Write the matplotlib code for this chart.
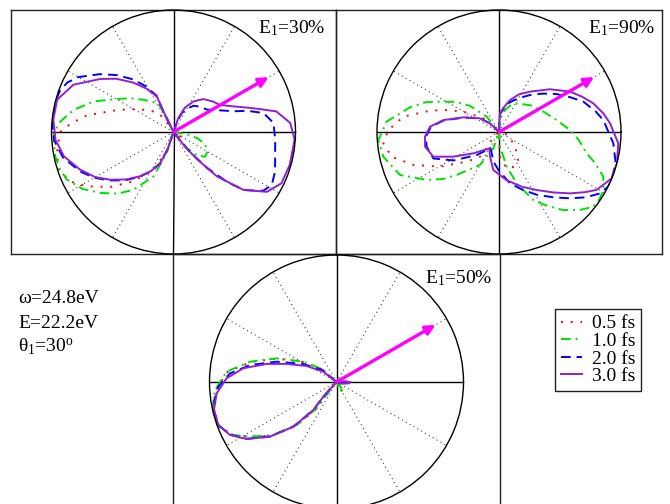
import numpy as np
import matplotlib
matplotlib.use('Agg')
import matplotlib.pyplot as plt
from matplotlib.patches import Rectangle

plt.rcParams['font.family'] = ['Liberation Serif', 'DejaVu Serif']
plt.rcParams['mathtext.fontset'] = 'custom'
plt.rcParams['mathtext.rm'] = 'Liberation Serif'
plt.rcParams['mathtext.it'] = 'Liberation Serif:italic'

# curves: (angle in degrees, radius), in drawing order
# panel E1=30% (top left)
tl_05 = [(120, 0.0), (125, 0.1), (127.5, 0.18), (137, 0.26), (146, 0.33), (152, 0.40), (159, 0.50),
         (169, 0.72), (175, 0.84), (180, 0.93), (190, 0.97), (198, 0.99), (205.5, 0.94), (212, 0.84),
         (221, 0.687), (231, 0.52), (242, 0.35), (251, 0.167), (254, 0.0),
         (335, 0.0), (328, 0.08), (320, 0.1), (312, 0.07), (305, 0.0)]
tl_10 = [(117, 0.0), (117.4, 0.237), (121, 0.28), (132.9, 0.36), (142, 0.45), (150, 0.54), (159, 0.70),
         (167.6, 0.84), (175.7, 0.946), (182, 0.985), (191.6, 0.99), (198, 0.98), (204, 0.957),
         (212, 0.88), (219.8, 0.78), (228, 0.68), (235.3, 0.575), (245.7, 0.40), (252, 0.18), (254, 0.0),
         (355, 0.0), (350, 0.12), (345, 0.21), (338, 0.28), (330, 0.32), (322, 0.33), (315, 0.27),
         (310, 0.17), (307, 0.0)]
tl_20 = [(-55, 0.0), (-51, 0.2), (-47, 0.4), (-43, 0.6), (-39.6, 0.745), (-35, 0.84), (-33.1, 0.88),
         (-28.3, 0.915), (-22, 0.895), (-17, 0.871), (-10, 0.846), (-4.3, 0.836), (5.2, 0.823),
         (11.9, 0.754), (16, 0.63), (19.1, 0.52), (25, 0.42), (33.8, 0.33), (44, 0.30), (52.8, 0.27),
         (60, 0.22), (66.4, 0.17), (71, 0.08), (73, 0.0),
         (117, 0.0), (116, 0.2), (115, 0.33), (122, 0.45), (128, 0.55), (135, 0.66), (142, 0.77),
         (150, 0.90), (155, 0.96), (160, 0.99), (165, 1.0), (175, 1.0), (184, 0.98), (193, 0.93),
         (203, 0.83), (210, 0.75), (217, 0.66), (225, 0.56), (233, 0.46), (240, 0.37), (247, 0.28),
         (251, 0.15), (253, 0.0)]
tl_30 = [(-56, 0.0), (-52, 0.15), (-49, 0.30), (-45.6, 0.51), (-39.6, 0.745), (-32.6, 0.91),
         (-25.4, 0.98), (-15.8, 0.99), (-3.6, 0.995), (4.4, 0.96), (11.3, 0.86), (14, 0.76),
         (17.4, 0.66), (24, 0.52), (30.3, 0.44), (37.4, 0.41), (47.7, 0.365), (56.8, 0.30),
         (65, 0.22), (71, 0.12), (73, 0.0),
         (117, 0.0), (116, 0.2), (115, 0.32), (122, 0.42), (129, 0.52), (137, 0.64), (144, 0.74),
         (154.7, 0.907), (164.5, 0.99), (174, 0.99), (183.7, 0.97), (192.5, 0.92), (202, 0.825),
         (210, 0.74), (217, 0.65), (225, 0.55), (233, 0.454), (240, 0.37), (247, 0.276),
         (251, 0.15), (253, 0.0)]

# panel E1=90% (top right)
tr_05 = [(130, 0.0), (138.8, 0.17), (150.2, 0.336), (157, 0.46), (162.8, 0.592), (170.9, 0.794),
         (179, 0.907), (185.6, 0.953), (193, 0.903), (201, 0.752), (210.4, 0.561), (222.5, 0.36),
         (233, 0.25), (235, 0.2), (230, 0.14), (225, 0.07), (222, 0.0),
         (350, 0.0), (341.4, 0.078), (322, 0.146), (310.7, 0.227), (304, 0.278), (295, 0.313),
         (282, 0.305), (272, 0.2), (265, 0.0)]
tr_10 = [(95, 0.0), (85, 0.1), (78, 0.17), (68, 0.23), (58, 0.276), (40, 0.34), (24.7, 0.40),
         (12, 0.48), (1.6, 0.582), (-6, 0.66), (-13.7, 0.74), (-18, 0.83), (-23.2, 0.93), (-29, 0.98),
         (-34, 0.99), (-38.4, 0.986), (-44, 0.92), (-50.5, 0.83), (-57, 0.72), (-63.2, 0.624),
         (-71, 0.445), (-77.5, 0.29), (-86, 0.12), (-90, 0.0),
         (125, 0.0), (128.7, 0.16), (138, 0.32), (145, 0.43), (152.8, 0.544), (158, 0.65),
         (164.5, 0.757), (174.7, 0.925), (183.8, 0.991), (192, 0.97), (203.5, 0.884), (213.5, 0.711),
         (220, 0.60), (225.4, 0.494), (240, 0.312), (251, 0.142), (255, 0.0)]
tr_20 = [(90, 0.0), (88, 0.1), (86, 0.15), (78, 0.2), (70, 0.26), (60, 0.32), (50, 0.396), (41, 0.48),
         (33.3, 0.566), (26, 0.65), (19.8, 0.735), (12, 0.81), (6.5, 0.861), (-5.7, 0.942), (-15, 0.99),
         (-22, 1.0), (-26.6, 1.0), (-31.3, 0.969), (-37, 0.89), (-43, 0.797), (-50, 0.70), (-59, 0.60),
         (-68, 0.51), (-78, 0.43), (-91, 0.31), (-100, 0.25), (-109, 0.185), (-118, 0.15),
         (226, 0.263), (212, 0.44), (202, 0.58), (191.5, 0.605), (183.6, 0.60), (175.6, 0.56),
         (167.9, 0.46), (157.6, 0.31), (144.3, 0.19), (136, 0.10), (130, 0.0)]
tr_30 = [(90, 0.0), (88, 0.1), (87, 0.153), (80, 0.2), (71, 0.277), (62, 0.35), (52.5, 0.417),
         (40, 0.545), (29.6, 0.67), (23, 0.74), (16.9, 0.808), (10, 0.87), (4.5, 0.913), (-5.4, 0.982),
         (-14.8, 1.0), (-22.4, 0.998), (-30.7, 0.93), (-35, 0.86), (-40.8, 0.77), (-48, 0.667),
         (-57, 0.567), (-67.5, 0.485), (-81, 0.40), (-98.5, 0.315), (-110, 0.215), (-120.5, 0.156),
         (219.8, 0.273), (208.4, 0.425), (200.6, 0.575), (191.2, 0.618), (183.6, 0.608),
         (175.6, 0.567), (167.9, 0.466), (157.6, 0.316), (144.3, 0.192), (136, 0.10), (130, 0.0)]

# panel E1=50% (bottom)
b_05 = [(140, 0.0), (140, 0.16), (148.5, 0.30), (158.4, 0.50), (166.8, 0.69), (174.6, 0.86),
        (183.8, 0.955), (191.3, 0.99), (200.7, 0.99), (207.2, 0.915), (212.3, 0.81), (220, 0.655),
        (227.2, 0.467), (233, 0.265), (231, 0.085), (230, 0.0),
        (320, 0.0), (310, 0.07), (302, 0.09), (292, 0.05), (280, 0.0)]
b_10 = [(140, 0.0), (140, 0.169), (148.5, 0.306), (158.4, 0.506), (166.8, 0.70), (174.6, 0.869),
        (183.8, 0.959), (191.3, 0.994), (200.7, 0.994), (207.2, 0.913), (212.3, 0.805), (220, 0.649),
        (227.2, 0.462), (233, 0.26), (231, 0.081), (230, 0.0),
        (320, 0.0), (310, 0.06), (300, 0.08), (290, 0.04), (280, 0.0)]
b_20 = [(143, 0.0), (139, 0.14), (151.5, 0.297), (161.2, 0.497), (168.9, 0.694), (175.4, 0.842),
        (182.3, 0.931), (189, 0.975), (193.5, 0.99), (200, 0.99), (206.4, 0.935), (212.4, 0.835),
        (219.4, 0.675), (226, 0.487), (230.4, 0.285), (228, 0.15), (225, 0.0),
        (335, 0.0), (348, 0.05), (356, 0.09), (2, 0.08), (8, 0.0)]
b_30 = [(145, 0.0), (142, 0.132), (151.8, 0.267), (160, 0.417), (165.5, 0.568), (171.6, 0.742),
        (178, 0.865), (185.4, 0.948), (192.9, 0.99), (200, 0.99), (206.4, 0.937), (212.4, 0.838),
        (219.4, 0.678), (226, 0.489), (230.4, 0.286), (228, 0.15), (225, 0.0),
        (330, 0.0), (345, 0.05), (354, 0.1), (0, 0.11), (4, 0.07), (10, 0.0)]

labels = ['0.5 fs', '1.0 fs', '2.0 fs', '3.0 fs']
colors = ['#ff0000', '#00e000', '#0000ff', '#9020d0']
styles = [(0, (1, 4)), (0, (5, 2.5, 1, 2.5)), (0, (5, 3)), '-']

panel_titles = ['E$_1$=30%', 'E$_1$=90%', 'E$_1$=50%']
arrow_deg = 30
arrow_len = 0.9
spoke_deg = [30, 60, 120, 150, 210, 240, 300, 330]
axis_deg = [0, 90, 180, 270]

W, H = 670, 504
fig = plt.figure(figsize=(W / 100, H / 100), dpi=100)


def px(left, top, w, h):
    return [left / W, 1 - (top + h) / H, w / W, h / H]


# rectangular frames (pixel boxes) and polar areas
frames = [px(11, 10, 325, 244), px(336, 10, 326, 244), px(173, 254, 327, 256)]
polars = [px(51.5, 10, 244, 244), px(377, 10, 244, 244), px(209.5, 255, 254, 254)]
title_pos = [(325, 33), (655, 33), (492, 283)]
panel_data = [[tl_05, tl_10, tl_20, tl_30],
              [tr_05, tr_10, tr_20, tr_30],
              [b_05, b_10, b_20, b_30]]

handles = []
for i in range(3):
    fa = fig.add_axes(frames[i])
    fa.set_facecolor('none')
    fa.set_xticks([])
    fa.set_yticks([])
    for s in fa.spines.values():
        s.set_linewidth(1.0)
        s.set_color('#222222')

    ax = fig.add_axes(polars[i], projection='polar')
    ax.set_facecolor('none')
    ax.set_rlim(0, 1)
    ax.set_xticks([])
    ax.set_yticks([])
    ax.spines['polar'].set_linewidth(1.0)
    ax.spines['polar'].set_color('k')

    for d in spoke_deg:
        ax.plot([np.radians(d)] * 2, [0, 1], ls=(0, (1, 3)), color='#444444', lw=0.8)
    for d in axis_deg:
        ax.plot([np.radians(d)] * 2, [0, 1], color='k', lw=1.0)

    for curve, col, ls, lab in zip(panel_data[i], colors, styles, labels):
        th = np.radians([p[0] for p in curve])
        rr = [p[1] for p in curve]
        ln, = ax.plot(th, rr, color=col, ls=ls, lw=1.4, label=lab)
        if i == 0:
            handles.append(ln)

    ax.annotate('', xy=(np.radians(arrow_deg), arrow_len), xytext=(0, 0),
                arrowprops=dict(arrowstyle='-|>', color='#ff00ff', lw=2.4,
                                mutation_scale=14, shrinkA=0, shrinkB=0))

    tx, ty = title_pos[i]
    fig.text(tx / W, 1 - ty / H, panel_titles[i], ha='right', va='baseline', fontsize=14)

fig.text(18 / W, 1 - 303 / H, 'ω=24.8eV', fontsize=14, va='baseline')
fig.text(18 / W, 1 - 328 / H, 'E=22.2eV', fontsize=14, va='baseline')
fig.text(18 / W, 1 - 352 / H, 'θ$_1$=30$^\\mathrm{o}$', fontsize=14, va='baseline')

leg = fig.legend(handles=handles, labels=labels, loc='upper left',
                 bbox_to_anchor=(555 / W, 1 - 309 / H), borderaxespad=0,
                 fontsize=14, frameon=True, fancybox=False, framealpha=1,
                 edgecolor='#222222', handlelength=1.1, handletextpad=0.5,
                 borderpad=0.3, labelspacing=0.0)
leg.get_frame().set_linewidth(1.0)

fig.savefig('out.png', dpi=100)
